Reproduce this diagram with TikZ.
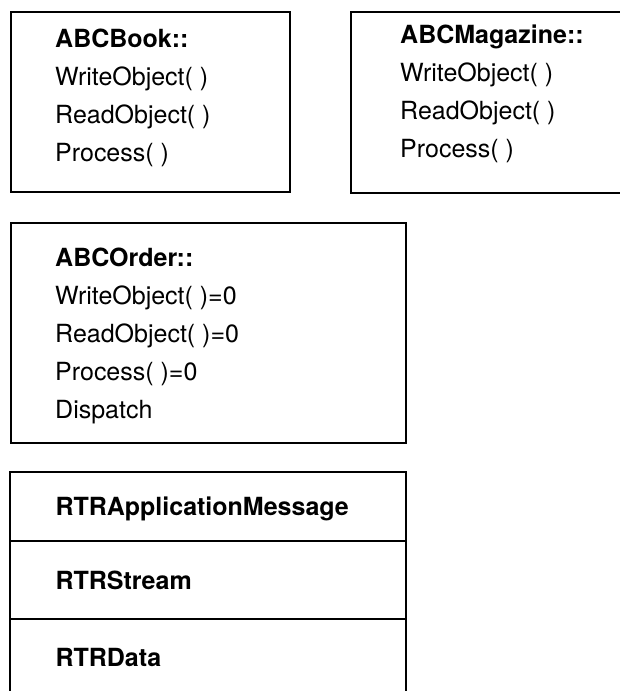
\documentclass[tikz,border=0pt]{standalone}
\usepackage{fontspec}
\setmainfont{TeX Gyre Heros}
\usetikzlibrary{positioning, calc, fit}

\begin{document}
\begin{tikzpicture}[
    x=1pt, y=-1pt,
    classbox/.style={rectangle, draw, line width=2pt, anchor=north west, inner sep=0pt},
    members/.style={anchor=north west, align=left, inner sep=0pt, font=\fontsize{25}{38}\selectfont},
    part/.style={rectangle, draw, line width=1pt, minimum width=395pt, text width=305pt, inner xsep=45pt, inner ysep=0pt, align=left, text height=18pt, text depth=0pt, font=\fontsize{25}{30}\selectfont\bfseries}
]
    \useasboundingbox (0,0) rectangle (620,691);
    \clip (0,0) rectangle (620,690);

    % class boxes
    \node[classbox, minimum width=279pt, minimum height=180pt] (book) at (10,11) {};
    \node[classbox, minimum width=290pt, minimum height=181pt] (magazine) at (350,11) {};
    \node[classbox, minimum width=395pt, minimum height=220pt] (order) at (10,222) {};

    \node[members] (booktext) at ($(book.north west)+(45,18)$)
        {\textbf{ABCBook::}\\WriteObject( )\\ReadObject( )\\Process( )};
    \node[members] (magazinetext) at ($(magazine.north west)+(50,14)$)
        {\textbf{ABCMagazine::}\\WriteObject( )\\ReadObject( )\\Process( )};
    \node[members] (ordertext) at ($(order.north west)+(45,26)$)
        {\textbf{ABCOrder::}\\WriteObject( )=0\\ReadObject( )=0\\Process( )=0\\Dispatch};

    % message stack
    \node[part, minimum height=68pt, anchor=north west] (app) at (10,472) {RTRApplicationMessage};
    \node[part, minimum height=77pt, below=0pt of app] (stream) {RTRStream};
    \node[part, minimum height=76pt, below=0pt of stream] (data) {RTRData};
    \node[draw, line width=2pt, inner sep=0pt, fit=(app)(stream)(data)] (message) {};
\end{tikzpicture}
\end{document}
